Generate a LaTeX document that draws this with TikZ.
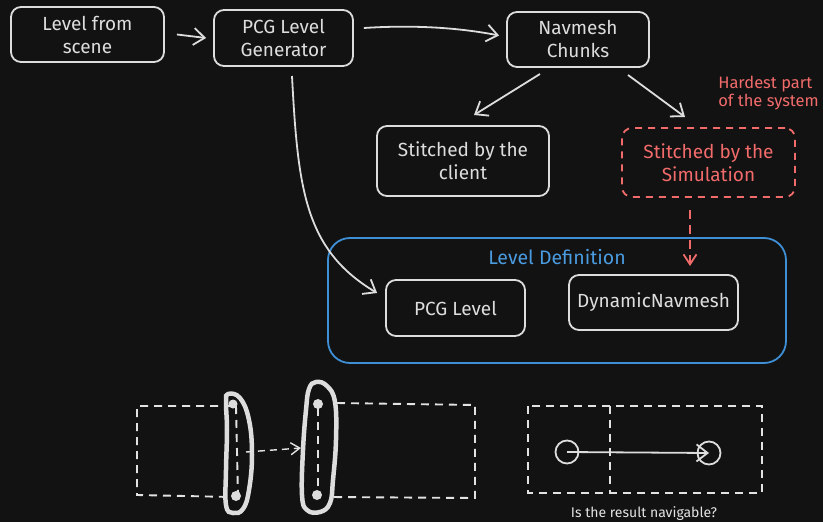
\documentclass[tikz,border=0pt]{standalone}
\usepackage{fontspec}
\setmainfont{Fira Sans}
\usetikzlibrary{arrows.meta}
\definecolor{bg}{HTML}{121212}
\definecolor{fg}{HTML}{DDDDDD}
\definecolor{redc}{HTML}{F26B6B}
\definecolor{bluec}{HTML}{3E8FD6}
\definecolor{bluetext}{HTML}{4A9BE0}
\tikzset{
  box/.style={draw=fg, line width=1.8pt, rounded corners=10pt, text=fg, align=center, font=\fontsize{19}{23}\selectfont, inner sep=0pt},
  redbox/.style={draw=redc, line width=1.8pt, dash pattern=on 7pt off 6pt, rounded corners=10pt, text=redc, align=center, font=\fontsize{19}{23}\selectfont, inner sep=0pt},
  conn/.style={draw=fg, line width=1.8pt, -{Straight Barb[length=11pt,width=17pt,line width=1.8pt]}},
  dashl/.style={draw=fg!85, line width=1.9pt, dash pattern=on 8pt off 6pt},
  capsule/.style={draw=fg, line width=4.5pt},
}
\begin{document}
\begin{tikzpicture}[x=1pt,y=-1pt]
\fill[bg] (0,0) rectangle (823,522);
\useasboundingbox (0,0) rectangle (823,522);
% top row
\node[box, minimum width=153pt, minimum height=55pt] (scene) at (87.5,34.5) {Level from\\scene};
\node[box, minimum width=139pt, minimum height=56pt] (gen) at (283.5,38) {PCG Level\\Generator};
\node[box, minimum width=142pt, minimum height=55pt] (chunks) at (578,39.5) {Navmesh\\Chunks};
\node[box, minimum width=172pt, minimum height=70pt] (client) at (463,161) {Stitched by the\\client};
\node[redbox, minimum width=173pt, minimum height=69pt] (sim) at (708.5,162.5) {Stitched by the\\Simulation};
\node[text=redc, align=left, font=\fontsize{16.5}{18}\selectfont, anchor=east, inner sep=0pt] (hard) at (819,93) {Hardest part\\of the system};
% level definition
\node[draw=bluec, line width=1.8pt, rounded corners=22pt, minimum width=458pt, minimum height=125pt, inner sep=0pt] (def) at (557,300.5) {};
\node[text=bluetext, font=\fontsize{19.5}{23}\selectfont] (deflab) at (557,257) {Level Definition};
\node[box, minimum width=139pt, minimum height=56pt] (pcgl) at (455.5,308) {PCG Level};
\node[box, minimum width=169pt, minimum height=55pt] (dyn) at (653.5,302.5) {DynamicNavmesh};
% connectors
\draw[conn] ([xshift=12pt]scene.east) -- ([xshift=-7pt]gen.west);
\draw[conn] ([xshift=10pt,yshift=10pt]gen.east) .. controls (410,25) and (455,27) .. ([xshift=-7pt,yshift=4pt]chunks.west);
\draw[conn] (540,74) -- (474,115);
\draw[conn] (628,75) -- (685,117);
\draw[conn] (292,76) .. controls (298,190) and (305,250) .. ([xshift=-8pt,yshift=15pt]pcgl.west);
\draw[redc, line width=1.8pt, dash pattern=on 9pt off 6pt, -{Straight Barb[length=10pt,width=13pt,line width=1.8pt]}] (690,210) -- (690,266);
% bottom left sketch
\draw[dashl] (232,406) -- (137,406) -- (137,495) -- (232,497);
\draw[dashl] (236,406) -- (238,497);
\draw[dashl] (337,403) -- (475,405) -- (475,498) -- (330,497);
\draw[dashl] (318,408) -- (318,492);
\draw[capsule] plot[smooth cycle, tension=0.7] coordinates {(228,394) (240,398) (249,420) (252,455) (249,490) (243,509) (233,513) (226,505) (226,470) (227,430) (226,402)};
\draw[capsule] plot[smooth cycle, tension=0.7] coordinates {(316,382) (327,386) (335,402) (336,440) (333,480) (330,503) (320,512) (307,510) (302,495) (303,450) (306,410) (309,389)};
\fill[fg] (233,404) circle (4.5pt);
\fill[fg] (236,496) circle (5pt);
\fill[fg] (318,404) circle (5pt);
\fill[fg] (317,495) circle (5pt);
\draw[fg!85, line width=1.4pt, dash pattern=on 7pt off 5pt, -{Straight Barb[length=9pt,width=12pt,line width=1.4pt]}] (246,452) -- (301,448);
% bottom right sketch
\draw[dashl] (528,406) rectangle (762,493);
\draw[dashl] (610,406) -- (610,493);
\node[draw=fg, line width=1.8pt, circle, minimum size=23pt, inner sep=0pt] (c1) at (567,452) {};
\node[draw=fg, line width=1.8pt, circle, minimum size=23pt, inner sep=0pt] (c2) at (709,453) {};
\draw[conn] (c1.center) -- (c2.center);
\node[text=fg!80, font=\fontsize{14}{16}\selectfont] (q) at (644,514) {Is the result navigable?};
\end{tikzpicture}
\end{document}
